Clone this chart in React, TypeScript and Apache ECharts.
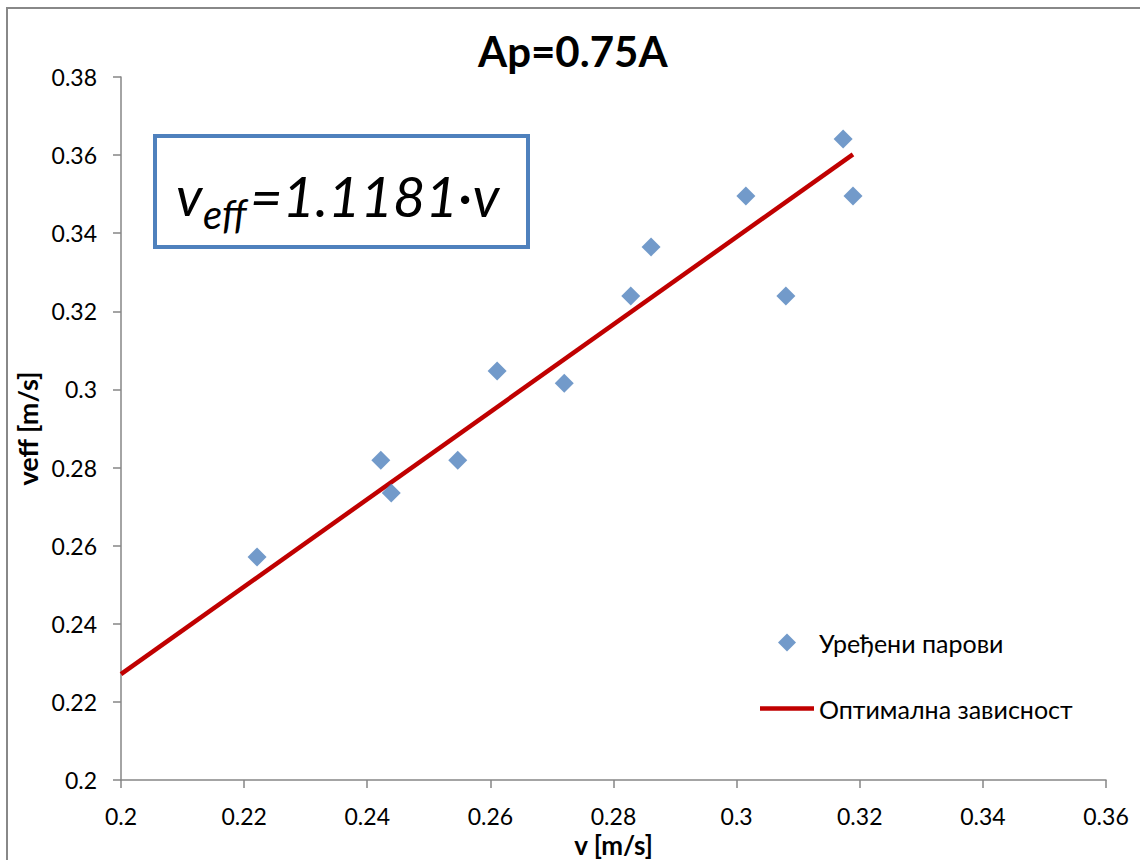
import React, { useEffect, useRef } from "react";
import * as echarts from "echarts";

const vValues = [0.2221, 0.2422, 0.2439, 0.2547, 0.2611, 0.272, 0.2828, 0.2861, 0.3015, 0.308, 0.3173, 0.3189];
const veffValues = [0.2571, 0.2819, 0.2735, 0.2819, 0.3047, 0.3016, 0.3239, 0.3365, 0.3495, 0.3239, 0.3641, 0.3495];
const fitX = [0.2, 0.3189];
const fitY = [0.2271, 0.3602];

const titleText = "Ap=0.75A";
const scatterName = "Уређени парови";
const lineName = "Оптимална зависност";
const xName = "v [m/s]";
const yName = "veff [m/s]";

const FONT = "Lato, 'Open Sans', sans-serif";

export default function App() {
  const ref = useRef<HTMLDivElement>(null);
  useEffect(() => {
    if (!ref.current) return;
    const chart = echarts.init(ref.current, null, { renderer: "svg" });
    const scatterData = vValues.map((v, i) => [v, veffValues[i]]);
    const lineData = fitX.map((v, i) => [v, fitY[i]]);
    const axisCommon = {
      type: "value",
      min: 0.2,
      interval: 0.02,
      splitLine: { show: false },
      axisLine: { show: true, lineStyle: { color: "#868686", width: 1.5 } },
      axisTick: { show: true, inside: false, length: 8, lineStyle: { color: "#868686", width: 1.5 } },
      axisLabel: { color: "#000", fontFamily: FONT, fontSize: 23, margin: 24 },
      nameLocation: "middle",
    };
    chart.setOption({
      animation: false,
      backgroundColor: "#fff",
      title: {
        text: titleText,
        left: 478,
        top: 30,
        padding: 0,
        textStyle: { fontFamily: FONT, fontSize: 42, fontWeight: "bold", color: "#000" },
      },
      grid: { left: 121, right: 34, top: 77, bottom: 80, containLabel: false, outerBoundsMode: "none" },
      xAxis: {
        ...axisCommon,
        max: 0.36,
        name: xName,
        nameGap: 46,
        nameTextStyle: { color: "#000", fontFamily: FONT, fontSize: 26, fontWeight: "bold", lineHeight: 26 },
      },
      yAxis: {
        ...axisCommon,
        max: 0.38,
        name: yName,
        nameGap: 76,
        nameTextStyle: { color: "#000", fontFamily: FONT, fontSize: 27, fontWeight: "bold", lineHeight: 26 },
      },
      legend: {
        orient: "vertical",
        left: 760,
        top: 630,
        padding: 0,
        itemWidth: 54,
        itemHeight: 18,
        itemGap: 41,
        itemTextGap: 4,
        symbolKeepAspect: true,
        textStyle: { fontFamily: FONT, fontSize: 25, color: "#000" },
        data: [
          { name: scatterName, icon: "path://M9,0L18,9L9,18L0,9Z" },
          { name: lineName, icon: "path://M0,0H54V4.5H0Z" },
        ],
      },
      series: [
        {
          name: lineName,
          type: "line",
          data: lineData,
          symbol: "none",
          lineStyle: { color: "#C00000", width: 4.5 },
          itemStyle: { color: "#C00000" },
          z: 2,
        },
        {
          name: scatterName,
          type: "scatter",
          data: scatterData,
          symbol: "diamond",
          symbolSize: 19,
          itemStyle: { color: "#4F81BD" },
          z: 3,
        },
      ],
      graphic: [
        {
          type: "rect",
          shape: { x: 7, y: 8, width: 1300, height: 1000 },
          style: { fill: "none", stroke: "#888888", lineWidth: 2 },
          silent: true,
        },
        {
          type: "rect",
          shape: { x: 155, y: 136, width: 373, height: 111 },
          style: { fill: "#fff", stroke: "#4F81BD", lineWidth: 4 },
          z: 10,
        },
        {
          type: "text",
          x: 176,
          y: 195,
          z: 11,
          style: { text: "v", fontFamily: FONT, fontSize: 55, fontStyle: "italic", fill: "#000", verticalAlign: "middle", align: "left" },
        },
        {
          type: "text",
          x: 203,
          y: 214,
          z: 11,
          style: { text: "eff", fontFamily: FONT, fontSize: 40, fontStyle: "italic", fill: "#000", verticalAlign: "middle", align: "left" },
        },
        {
          type: "text",
          x: 250,
          y: 195,
          z: 11,
          style: { text: "=1.1181·v", fontFamily: FONT, fontSize: 56, fontStyle: "italic", fill: "#000", verticalAlign: "middle", align: "left" },
        },
      ],
    });
    return () => chart.dispose();
  }, []);
  return <div ref={ref} style={{ position: "absolute", left: 0, top: 0, width: 1140, height: 860 }} />;
}
